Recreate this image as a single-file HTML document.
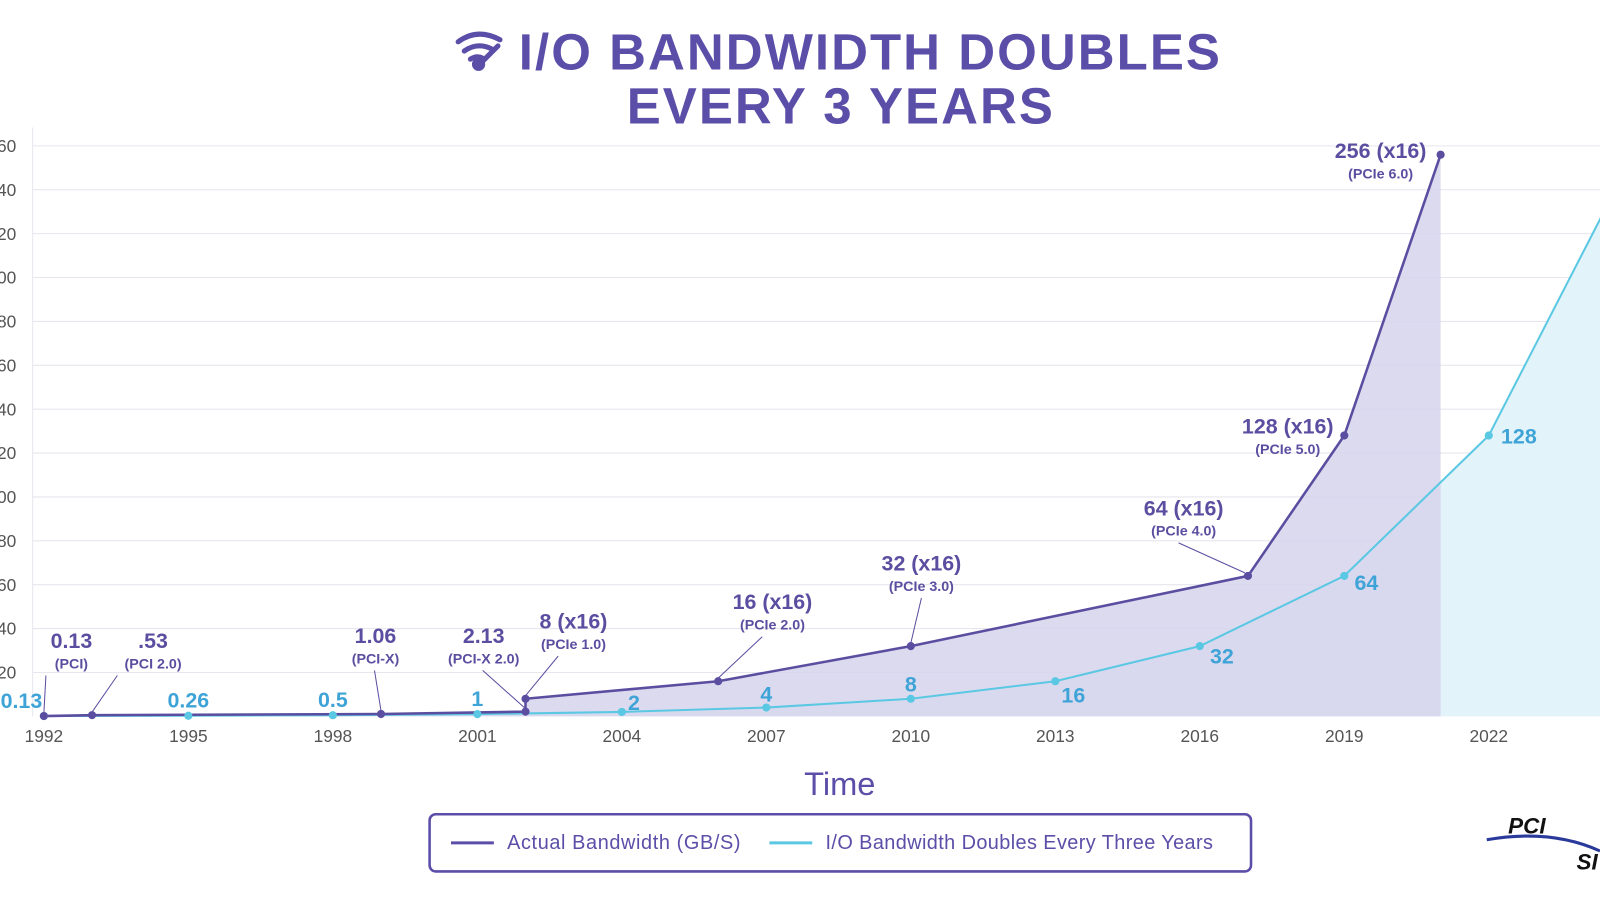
<!DOCTYPE html>
<html><head><meta charset="utf-8"><style>
html,body{margin:0;padding:0;background:#fff;width:1600px;height:900px;overflow:hidden}
svg text{font-family:"Liberation Sans",sans-serif}
</style></head><body>
<svg id="c" width="1600" height="900" viewBox="0 0 1568 882" xmlns="http://www.w3.org/2000/svg">
<g fill="#5b4ea8" font-weight="bold" font-size="50" text-anchor="middle" letter-spacing="2">
 <text x="853" y="68">I/O BANDWIDTH DOUBLES</text>
 <text x="824" y="121">EVERY 3 YEARS</text>
</g>
<g fill="none" stroke="#5b4ea8" stroke-width="5" stroke-linecap="round">
 <path d="M449 41 Q468 27 490 39"/><path d="M455 50 Q468 41 482 48"/><path d="M461 58 Q467 54 473 57"/>
 <line x1="470" y1="63" x2="488" y2="45"/><circle cx="469" cy="63" r="4" fill="#5b4ea8"/>
</g>
<g id="grid"></g><g id="areas"></g><g id="lines"></g><g id="labels"></g>
<text x="823" y="779" font-size="32" fill="#5b4ea8" text-anchor="middle">Time</text>
<g>
 <rect x="421" y="798" width="805" height="56" rx="6" fill="#fff" stroke="#5b4ea8" stroke-width="2.5"/>
 <line x1="442" y1="826" x2="484" y2="826" stroke="#5b4ea8" stroke-width="3"/>
 <text x="497" y="832" font-size="19.5" letter-spacing="0.6" fill="#5b4ea8">Actual Bandwidth (GB/S)</text>
 <line x1="754" y1="826" x2="796" y2="826" stroke="#5bc8e3" stroke-width="3"/>
 <text x="809" y="832" font-size="19.5" letter-spacing="0.4" fill="#5b4ea8">I/O Bandwidth Doubles Every Three Years</text>
</g>
<g>
 <path d="M1457 823 Q1520 812 1568 834" fill="none" stroke="#2a3a9a" stroke-width="3"/>
 <text x="1478" y="817" font-size="22" font-weight="bold" font-style="italic" fill="#111">PCI</text>
 <text x="1545" y="852" font-size="22" font-weight="bold" font-style="italic" fill="#111">SI</text>
</g>
</svg>
<script>
const yTicks=[20,40,60,80,100,120,140,160,180,200,220,240,260];
const xTicks=[1992,1995,1998,2001,2004,2007,2010,2013,2016,2019,2022];
const actualYears=[1992,1993,1999,2002,2002,2006,2010,2017,2019,2021];
const actualVals=[0.13,0.53,1.06,2.13,8,16,32,64,128,256];
const doubleYears=[1992,1995,1998,2001,2004,2007,2010,2013,2016,2019,2022,2025];
const doubleVals=[0.13,0.26,0.5,1,2,4,8,16,32,64,128,256];
const actualLabels=["0.13",".53","1.06","2.13","8 (x16)","16 (x16)","32 (x16)","64 (x16)","128 (x16)","256 (x16)"];
const actualSubs=["(PCI)","(PCI 2.0)","(PCI-X)","(PCI-X 2.0)","(PCIe 1.0)","(PCIe 2.0)","(PCIe 3.0)","(PCIe 4.0)","(PCIe 5.0)","(PCIe 6.0)"];
const doubleLabels=["0.13","0.26","0.5","1","2","4","8","16","32","64","128"];
const NS="http://www.w3.org/2000/svg";
const X=y=>43+(y-1992)*47.2, Y=v=>702-v*2.15;
function mk(t,a,p){const e=document.createElementNS(NS,t);for(const k in a)e.setAttribute(k,a[k]);p.appendChild(e);return e;}
const g=document.getElementById('grid');
yTicks.forEach(v=>{const l=mk('line',{x1:32,x2:1600,y1:Y(v),y2:Y(v),stroke:'#e6e6ee','stroke-width':1},g);


const t=mk('text',{x:16,y:Y(v)+6,'font-size':17,fill:'#555','text-anchor':'end'},g);t.textContent=v;

});
mk('line',{x1:32,x2:32,y1:125,y2:702,stroke:'#e6e6ee'},g);
xTicks.forEach(v=>{const t=mk('text',{x:X(v),y:727,'font-size':17,fill:'#555','text-anchor':'middle'},g);t.textContent=v;

});
const A=document.getElementById('areas'),L=document.getElementById('lines'),LB=document.getElementById('labels');
const dp=doubleYears.map((y,i)=>[X(y),Y(doubleVals[i])]);
const ap=actualYears.map((y,i)=>[X(y),Y(actualVals[i])]);
const pts=p=>p.map(q=>q.join(',')).join(' ');
const ca=mk('polygon',{points:pts(dp)+` ${dp[dp.length-1][0]},702 ${dp[0][0]},702`,fill:'#e2f3fa'},A);


const pa=mk('polygon',{points:pts(ap)+` ${ap[ap.length-1][0]},702 ${ap[0][0]},702`,fill:'#d6d3ec',opacity:0.85},A);


const cl=mk('polyline',{points:pts(dp),fill:'none',stroke:'#5bc8e3','stroke-width':2},L);


const pl=mk('polyline',{points:pts(ap),fill:'none',stroke:'#5b4ea0','stroke-width':2.5},L);


const dOff=[[-22,-8,'middle'],[0,-8,'middle'],[0,-8,'middle'],[0,-8,'middle'],[6,-2,'start'],[0,-6,'middle'],[0,-7,'middle'],[6,21,'start'],[10,17,'start'],[10,14,'start'],[12,8,'start']];
dp.forEach((p,i)=>{if(p[0]>1600)return;const c=mk('circle',{cx:p[0],cy:p[1],r:4,fill:'#5bc8e3'},L);


if(i<doubleLabels.length){const o=dOff[i];
const t=mk('text',{x:p[0]+o[0],y:p[1]+o[1],'font-size':21,'font-weight':'bold',fill:'#3ea3d6','text-anchor':o[2]},LB);
t.textContent=doubleLabels[i];

}});
const lo=[[70,635],[150,635],[368,630],[474,630],[562,616],[757,597],[903,559],[1160,505],[1262,425],[1353,155]];
ap.forEach((p,i)=>{const c=mk('circle',{cx:p[0],cy:p[1],r:4,fill:'#5b4ea0'},L);


const [lx,ly]=lo[i];
if(i<8){const ln=mk('line',{x1:p[0]-(i==7?3:0),y1:p[1]-3,x2:lx+(i==0?-25:(i==1?-35:(i<4?-1:(i==7?-5:0)))),y2:ly+27,stroke:'#5b4ea0','stroke-width':1},LB);
if(i>=4&&i<7){ln.setAttribute('x2',lx+(i==4?-15:(i==5?-10:0)));}

}
const t=mk('text',{x:lx,y:ly,'font-size':21,'font-weight':'bold',fill:'#5b4ea0','text-anchor':'middle'},LB);t.textContent=actualLabels[i];


const s=mk('text',{x:lx,y:ly+20,'font-size':14,'font-weight':'bold',fill:'#5b4ea0','text-anchor':'middle'},LB);s.textContent=actualSubs[i];

});
</script>
</body></html>
